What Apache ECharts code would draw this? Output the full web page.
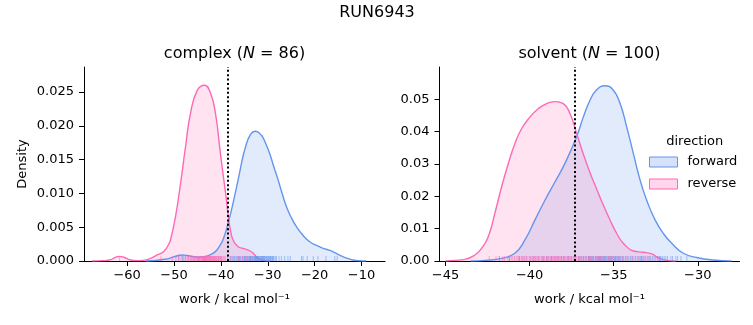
<!DOCTYPE html>
<html>
<head>
<meta charset="utf-8">
<script src="https://cdn.jsdelivr.net/npm/echarts@6/dist/echarts.min.js"></script>
<style>html,body{margin:0;padding:0;background:#fff;}#c{width:753px;height:325px;}</style>
</head>
<body>
<div id="c"></div>
<script>
// ---------- data ----------
const figureTitle = 'RUN6943';
const panelNames = ['complex', 'solvent'];
const panelN = [86, 100];
const directions = ['forward', 'reverse'];
const xLabelText = 'work / kcal mol\u207B\u00B9';

// KDE curves [work, density]
const complexForwardCurve = [
  [-56, 0], [-54, 0.00008], [-52, 0.00025], [-50.5, 0.0005], [-49.3, 0.00078], [-48.3, 0.00088],
  [-47.2, 0.00082], [-46, 0.00066], [-44.8, 0.00058], [-43.7, 0.00062], [-42.7, 0.0008],
  [-41.8, 0.0011], [-40.9, 0.0016], [-40.2, 0.0023], [-39.47, 0.0033], [-38.46, 0.0056],
  [-37.4, 0.0086], [-36.33, 0.0120], [-35.5, 0.0148], [-34.9, 0.0165], [-33.8, 0.0186],
  [-32.6, 0.0192], [-31.35, 0.0186], [-30.4, 0.0173], [-29.6, 0.0159], [-28.7, 0.0139],
  [-27.8, 0.0120], [-26.9, 0.0099], [-26.0, 0.0080], [-24.9, 0.0063], [-23.9, 0.0051],
  [-22.5, 0.0038], [-21.05, 0.00285], [-19.6, 0.0023], [-18.2, 0.00187], [-16.9, 0.0016],
  [-15.7, 0.00123], [-14.8, 0.0009], [-13.95, 0.00064], [-12.8, 0.00035], [-11.8, 0.00015],
  [-10.5, 0.00004], [-9, 0]
];
const complexReverseCurve = [
  [-67.5, 0], [-65, 0.00005], [-63.5, 0.0002], [-62.5, 0.00055], [-61.6, 0.00069], [-60.7, 0.00055],
  [-59.5, 0.0002], [-58, 0.00006], [-56.5, 0.0001], [-55, 0.0004], [-53.6, 0.00089], [-52.2, 0.0014],
  [-51.2, 0.0024], [-50.75, 0.0031], [-49.7, 0.0065], [-48.6, 0.0115], [-47.55, 0.0169],
  [-46.5, 0.0218], [-45.07, 0.0252], [-43.5, 0.0260], [-42.2, 0.0248], [-41.15, 0.0218],
  [-40.19, 0.0164], [-39.47, 0.0125], [-38.9, 0.0095], [-38.46, 0.0068], [-38.1, 0.0051],
  [-37.4, 0.0031], [-36.33, 0.0021], [-34.9, 0.0018], [-33.5, 0.00137], [-32.07, 0.0004],
  [-31.0, 0.0001], [-29.5, 0]
];
const solventForwardCurve = [
  [-43.5, 0], [-42.66, 0.0002], [-41.67, 0.0008], [-40.88, 0.0024], [-40.28, 0.0065],
  [-39.68, 0.0127], [-39.09, 0.0188], [-38.49, 0.0245], [-37.9, 0.0302],
  [-37.2, 0.0385], [-36.81, 0.0445], [-36.41, 0.0497], [-36.01, 0.0530], [-35.52, 0.0542],
  [-35.02, 0.0528], [-34.62, 0.0487], [-34.23, 0.0415], [-33.83, 0.0332], [-33.43, 0.0250],
  [-33.04, 0.0188], [-32.54, 0.0127], [-32.05, 0.0085], [-31.55, 0.0055], [-30.86, 0.0024],
  [-30.06, 0.0011], [-29.07, 0.0003], [-28.0, 0]
];
const solventReverseCurve = [
  [-45.0, 0], [-44.45, 0.0002], [-43.85, 0.0005], [-43.26, 0.00185], [-42.86, 0.0039],
  [-42.46, 0.0075], [-42.07, 0.0147], [-41.67, 0.0229], [-41.27, 0.0301], [-40.88, 0.0363],
  [-40.48, 0.0409], [-39.98, 0.0445], [-39.49, 0.0471], [-38.99, 0.0487], [-38.49, 0.0493],
  [-38.0, 0.0487], [-37.6, 0.0456], [-37.2, 0.0394], [-36.81, 0.0331], [-36.41, 0.0273],
  [-36.01, 0.0222], [-35.62, 0.0173], [-35.22, 0.0127], [-34.82, 0.0085], [-34.43, 0.0055],
  [-33.83, 0.0031], [-33.24, 0.0027], [-32.74, 0.0022], [-32.35, 0.0010], [-31.85, 0.0002],
  [-31.3, 0]
];

// rug samples (individual work values)
const complexForwardWork = [
  -49.0, -48.2, -47.6, -43.5, -40.5, -38.6, -38.0, -37.8, -37.5, -37.1, -36.8, -36.6, -36.4, -36.2,
  -36.0, -35.9, -35.7, -35.4, -35.1, -35.0, -34.9, -34.8, -34.6, -34.4, -34.3, -34.1, -33.9, -33.8,
  -33.7, -33.6, -33.5, -33.3, -33.2, -33.1, -32.9, -32.8, -32.7, -32.6, -32.5, -32.4, -32.3, -32.2,
  -32.1, -32.0, -31.9, -31.8, -31.6, -31.5, -31.4, -31.3, -31.2, -31.1, -31.0, -30.9, -30.8, -30.7,
  -30.6, -30.4, -30.3, -30.2, -30.0, -29.9, -29.8, -29.6, -29.5, -29.4, -29.3, -29.1, -29.0, -28.8,
  -28.7, -28.4, -28.15, -27.6, -27.1, -26.4, -25.7, -25.2, -22.8, -22.5, -21.6, -20.3, -19.3, -17.6,
  -15.7, -15.2
];
const complexReverseWork = [
  -61.6, -52.8, -50.4, -49.6, -49.0, -48.5, -48.0, -47.6, -47.2, -47.0, -46.9, -46.6, -46.4, -46.3,
  -46.0, -45.9, -45.8, -45.6, -45.5, -45.3, -45.1, -45.0, -44.9, -44.8, -44.7, -44.6, -44.5, -44.3,
  -44.2, -44.1, -44.0, -43.9, -43.8, -43.7, -43.65, -43.6, -43.55, -43.5, -43.45, -43.4, -43.3, -43.2,
  -43.1, -43.0, -42.95, -42.9, -42.8, -42.7, -42.6, -42.5, -42.45, -42.4, -42.3, -42.2, -42.1, -42.0,
  -41.9, -41.8, -41.7, -41.6, -41.5, -41.4, -41.35, -41.2, -41.1, -41.0, -40.9, -40.8, -40.6, -40.5,
  -40.4, -40.2, -40.1, -40.0, -39.9, -39.8, -39.5, -39.3, -39.1, -38.6, -38.0, -37.3, -36.2, -35.4,
  -34.6, -33.8
];
const solventForwardWork = [
  -41.8, -41.2, -40.6, -40.2, -39.8, -39.5, -39.2, -38.9, -38.7, -38.5, -38.3, -38.1, -37.9, -37.7,
  -37.5, -37.3, -37.1, -36.9, -36.8, -36.7, -36.6, -36.5, -36.45, -36.4, -36.3, -36.25, -36.2, -36.1,
  -36.05, -36.0, -35.95, -35.9, -35.85, -35.8, -35.75, -35.7, -35.65, -35.6, -35.55, -35.5, -35.45,
  -35.4, -35.35, -35.3, -35.25, -35.2, -35.15, -35.1, -35.05, -35.0, -34.95, -34.9, -34.85, -34.8,
  -34.7, -34.65, -34.6, -34.5, -34.45, -34.4, -34.3, -34.2, -34.1, -34.0, -33.9, -33.8, -33.7, -33.6,
  -33.5, -33.4, -33.3, -33.2, -33.1, -33.0, -32.9, -32.8, -32.7, -32.6, -32.5, -32.4, -32.3, -32.2,
  -32.1, -32.0, -31.9, -31.8, -31.6, -31.5, -31.3, -31.2, -31.0, -30.65, -39.0, -38.0, -37.0, -36.35,
  -35.82, -34.75, -33.35, -32.25
];
const solventReverseWork = [
  -42.4, -42.0, -41.8, -41.6, -41.5, -41.3, -41.2, -41.0, -40.9, -40.8, -40.7, -40.65, -40.6, -40.5,
  -40.45, -40.4, -40.3, -40.2, -40.1, -40.0, -39.95, -39.9, -39.8, -39.7, -39.65, -39.6, -39.5, -39.45,
  -39.4, -39.3, -39.25, -39.2, -39.1, -39.0, -38.95, -38.9, -38.8, -38.75, -38.7, -38.6, -38.55, -38.5,
  -38.45, -38.4, -38.3, -38.25, -38.2, -38.15, -38.1, -38.0, -37.95, -37.9, -37.8, -37.75, -37.7,
  -37.6, -37.55, -37.5, -37.4, -37.35, -37.3, -37.2, -37.1, -37.0, -36.9, -36.8, -36.7, -36.6, -36.5,
  -36.4, -36.3, -36.2, -36.1, -36.0, -35.9, -35.8, -35.6, -35.5, -35.3, -35.1, -34.9, -34.7, -34.5,
  -34.2, -33.9, -33.5, -33.2, -32.9, -32.3, -41.1, -40.35, -39.75, -39.15, -38.65, -38.35, -37.65,
  -37.05, -36.45, -35.7, -35.2
];

// mean-work reference lines
const complexRefWork = -38.53;
const solventRefWork = -37.32;

// axis ranges and ticks
const complexXRange = [-69.2, -5.0];
const complexYRange = [0, 0.0287];
const solventXRange = [-45.36, -27.52];
const solventYRange = [0, 0.06];
const complexXTicks = [-60, -50, -40, -30, -20, -10];
const complexYTicks = [0, 0.005, 0.010, 0.015, 0.020, 0.025];
const solventXTicks = [-45, -40, -35, -30];
const solventYTicks = [0, 0.01, 0.02, 0.03, 0.04, 0.05];

// ---------- chart ----------
const FONT = 'DejaVu Sans';
const colors = { forward: '#6495ED', reverse: '#FF69B4' };
const fills = { forward: 'rgba(100,149,237,0.27)', reverse: 'rgba(255,105,180,0.27)' };
const minus = s => String(s).replace('-', '\u2212');

function xAxis(idx, range, ticks) {
  return {
    type: 'value', gridIndex: idx, min: range[0], max: range[1],
    splitLine: { show: false },
    axisLine: { show: true, onZero: false, lineStyle: { color: '#000', width: 1 } },
    axisTick: { show: true, length: 5, lineStyle: { color: '#000', width: 1 }, customValues: ticks },
    axisLabel: { customValues: ticks, formatter: v => minus(v), color: '#000', fontFamily: FONT, fontSize: 13, margin: 8 },
    name: xLabelText, nameLocation: 'middle', nameGap: 32,
    nameTextStyle: { color: '#000', fontFamily: FONT, fontSize: 13 }
  };
}
function yAxis(idx, range, ticks, dec, withName) {
  const a = {
    type: 'value', gridIndex: idx, min: range[0], max: range[1],
    splitLine: { show: false },
    axisLine: { show: true, lineStyle: { color: '#000', width: 1 } },
    axisTick: { show: true, length: 5, lineStyle: { color: '#000', width: 1 }, customValues: ticks },
    axisLabel: { customValues: ticks, formatter: v => v.toFixed(dec), color: '#000', fontFamily: FONT, fontSize: 13, margin: 10 }
  };
  if (withName) {
    a.name = 'Density'; a.nameLocation = 'middle'; a.nameGap = 55; a.nameRotate = 90;
    a.nameTextStyle = { color: '#000', fontFamily: FONT, fontSize: 13 };
  }
  return a;
}
function curve(idx, dir, data, ref) {
  const s = {
    type: 'line', name: dir, xAxisIndex: idx, yAxisIndex: idx, data: data,
    smooth: 0.5, showSymbol: false, symbol: 'none', silent: true,
    lineStyle: { color: colors[dir], width: 1.4 },
    itemStyle: { color: colors[dir] },
    areaStyle: { color: fills[dir], origin: 'start' },
    z: 2
  };
  if (ref !== undefined) {
    s.markLine = {
      symbol: 'none', silent: true, animation: false, z: 10,
      label: { show: false },
      lineStyle: { color: '#000', type: [2, 2.4], width: 2 },
      data: [{ xAxis: ref }]
    };
  }
  return s;
}
function rug(idx, dir, values) {
  return {
    type: 'scatter', name: dir + '-rug', xAxisIndex: idx, yAxisIndex: idx,
    data: values.map(v => [v, 0]), symbol: 'rect', symbolSize: [1, 5], symbolOffset: [0, -2.5],
    itemStyle: { color: colors[dir], opacity: 0.55 }, silent: true, z: 3
  };
}

const titleStyle = { fontFamily: FONT, fontSize: 16, fill: '#000' };
const subRich = {
  a: { fontFamily: FONT, fontSize: 16, color: '#000' },
  i: { fontFamily: FONT, fontSize: 16, fontStyle: 'italic', color: '#000' }
};

const chart = echarts.init(document.getElementById('c'), null, { renderer: 'canvas' });
chart.setOption({
  animation: false,
  backgroundColor: '#fff',
  grid: [
    { left: 84, top: 67, width: 301, height: 194 },
    { left: 439.5, top: 67, width: 300, height: 194 }
  ],
  xAxis: [xAxis(0, complexXRange, complexXTicks), xAxis(1, solventXRange, solventXTicks)],
  yAxis: [yAxis(0, complexYRange, complexYTicks, 3, true), yAxis(1, solventYRange, solventYTicks, 2, false)],
  legend: {
    orient: 'vertical', left: 649, top: 155, padding: 0, icon: 'rect', itemWidth: 28, itemHeight: 10, itemGap: 8,
    textStyle: { fontFamily: FONT, fontSize: 13, color: '#000', lineHeight: 14, padding: [0, 0, 0, 5] },
    selectedMode: false,
    data: directions.map(d => ({ name: d, itemStyle: { color: fills[d], borderColor: colors[d], borderWidth: 1 } }))
  },
  series: [
    curve(0, 'forward', complexForwardCurve),
    curve(0, 'reverse', complexReverseCurve, complexRefWork),
    rug(0, 'forward', complexForwardWork),
    rug(0, 'reverse', complexReverseWork),
    curve(1, 'forward', solventForwardCurve),
    curve(1, 'reverse', solventReverseCurve, solventRefWork),
    rug(1, 'forward', solventForwardWork),
    rug(1, 'reverse', solventReverseWork)
  ],
  graphic: [
    { type: 'text', x: 377, y: 13, style: Object.assign({ text: figureTitle, align: 'center', verticalAlign: 'middle' }, titleStyle) },
    { type: 'text', x: 234.5, y: 54, style: { text: '{a|' + panelNames[0] + ' (}{i|N}{a| = ' + panelN[0] + ')}', rich: subRich, align: 'center', verticalAlign: 'middle' } },
    { type: 'text', x: 589.4, y: 54, style: { text: '{a|' + panelNames[1] + ' (}{i|N}{a| = ' + panelN[1] + ')}', rich: subRich, align: 'center', verticalAlign: 'middle' } },
    { type: 'text', x: 694.7, y: 142, style: { text: 'direction', align: 'center', verticalAlign: 'middle', fontFamily: FONT, fontSize: 13, fill: '#000' } }
  ]
});
</script>
</body>
</html>
